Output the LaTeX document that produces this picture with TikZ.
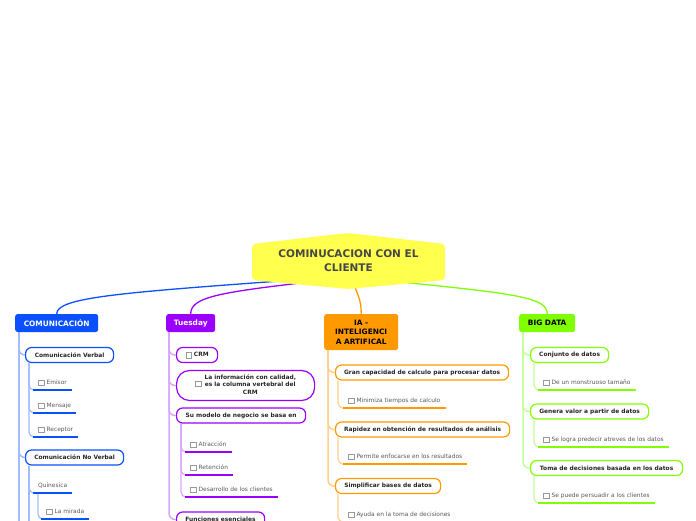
\documentclass[tikz,border=0pt]{standalone}
\usepackage{fontspec}
\setmainfont{DejaVu Sans}
\usetikzlibrary{calc,backgrounds}
\definecolor{cblue}{RGB}{10,80,255}
\definecolor{cbluel}{RGB}{160,188,255}
\definecolor{cpurp}{RGB}{153,0,255}
\definecolor{cpurpl}{RGB}{218,166,255}
\definecolor{corng}{RGB}{255,153,0}
\definecolor{corngl}{RGB}{255,208,140}
\definecolor{cgrn}{RGB}{128,255,0}
\definecolor{cgrnl}{RGB}{196,255,150}
\definecolor{cyell}{RGB}{255,255,77}
\definecolor{ctitle}{RGB}{70,70,70}
\newcommand\cbx{\raisebox{-0.7pt}{\textcolor{black!40}{\fboxsep=0pt\fboxrule=0.6pt\fbox{\rule{0pt}{5pt}\rule{5pt}{0pt}}}}\hspace{2.2pt}}
\tikzset{
 mainbox/.style={rounded corners=2.5pt, inner sep=0pt, minimum height=18pt,
   font=\bfseries\fontsize{7.4}{9.5}\selectfont, anchor=west, align=center},
 childbox/.style={draw, fill=white, line width=1.2pt, rounded corners=6pt, inner sep=0pt,
   minimum height=15pt, font=\bfseries\fontsize{5.9}{7.4}\selectfont, text=black!85,
   anchor=west, align=center},
 leaf/.style={anchor=south west, inner xsep=5pt, inner ysep=0pt, minimum height=14pt,
   font=\fontsize{5.9}{7}\selectfont, text=black!65},
 uline/.style={line width=2.6pt},
 conn/.style={line width=1.5pt, rounded corners=6pt},
 subconn/.style={line width=1.2pt, rounded corners=5pt},
 rootconn/.style={line width=1.3pt},
}
\begin{document}
\begin{tikzpicture}[x=1pt,y=-1pt]
\useasboundingbox (0,0) rectangle (696,520);
\clip (0,0) rectangle (696,520);

% central topic
\fill[cyell, rounded corners=4pt] (252,244) -- (348,233) -- (445,244) -- (445,280) -- (348,289) -- (252,280) -- cycle;
\node[font=\bfseries\fontsize{10.5}{14}\selectfont, text=ctitle, align=center] (root) at (348.5,261) {COMINUCACION CON EL\\CLIENTE};

% main topics
\node[mainbox, fill=cblue, text=white, minimum width=83pt] (com) at (15,323) {COMUNICACIÓN};
\node[mainbox, fill=cpurp, text=white, minimum width=49pt] (tue) at (166,323) {Tuesday};
\node[mainbox, fill=corng, text=black, minimum width=74pt, minimum height=36pt] (ia) at (324,332) {IA -\\INTELIGENCI\\A ARTIFICAL};
\node[mainbox, fill=cgrn, text=black, minimum width=56pt] (big) at (519,323) {BIG DATA};

% ---------- blue column
\node[childbox, draw=cblue, minimum width=88pt] (cv) at (25,355) {Comunicación Verbal};
\node[leaf] (emisor) at (33,390) {\cbx Emisor};
\node[leaf] (mensaje) at (33,413) {\cbx Mensaje};
\node[leaf] (receptor) at (33,437) {\cbx Receptor};
\node[childbox, draw=cblue, minimum width=98pt] (cnv) at (25,457.5) {Comunicación No Verbal};
\node[leaf] (quin) at (33,493) {Quinesica};
\node[leaf] (mirada) at (41,519) {\cbx La mirada};
\coordinate (bendA) at (19,530);
\coordinate (bendB) at (29,530);

% ---------- purple column
\node[childbox, draw=cpurp, minimum width=41pt] (crm) at (176,355) {\cbx CRM};
\node[childbox, draw=cpurp, minimum width=138pt, minimum height=30pt, rounded corners=13pt] (info) at (176,385.5)
  {\begin{tabular}{@{}c@{\hspace{1pt}}c@{}}\raisebox{1.5pt}{\cbx} & \begin{tabular}{@{}c@{}}La información con calidad,\\es la columna vertebral del\\CRM\end{tabular}\end{tabular}};
\node[childbox, draw=cpurp, minimum width=129pt] (modelo) at (176,415.5) {Su modelo de negocio se basa en};
\node[leaf] (atr) at (185,452) {\cbx Atracción};
\node[leaf] (ret) at (185,475) {\cbx Retención};
\node[leaf] (des) at (185,497) {\cbx Desarrollo de los clientes};
\node[childbox, draw=cpurp, minimum width=88pt] (func) at (176,519.5) {Funciones esenciales};

% ---------- orange column
\node[childbox, draw=corng, minimum width=173pt] (gran) at (335,372.5) {Gran capacidad de calculo para procesar datos};
\node[leaf] (mini) at (343,408) {\cbx Minimiza tiempos de calculo};
\node[childbox, draw=corng, minimum width=174pt] (rap) at (335,429.5) {Rapidez en obtención de resultados de análisis};
\node[leaf] (perm) at (343,464) {\cbx Permite enfocarse en los resultados};
\node[childbox, draw=corng, minimum width=105pt] (simp) at (335,486) {Simplificar bases de datos};
\node[leaf] (ayuda) at (343,522) {\cbx Ayuda en la toma de decisiones};

% ---------- green column
\node[childbox, draw=cgrn, minimum width=78pt] (conj) at (530,355) {Conjunto de datos};
\node[leaf] (mons) at (538,390) {\cbx De un monstruoso tamaño};
\node[childbox, draw=cgrn, minimum width=118pt] (gen) at (530,411.5) {Genera valor a partir de datos};
\node[leaf] (pred) at (538,447) {\cbx Se logra predecir atreves de los datos};
\node[childbox, draw=cgrn, minimum width=152pt] (toma) at (530,468) {Toma de decisiones basada en los datos};
\node[leaf] (pers) at (538,503) {\cbx Se puede persuadir a los clientes};

% underlines
\foreach \n in {emisor,mensaje,receptor,quin,mirada} \draw[uline,cblue] (\n.south west) -- (\n.south east);
\foreach \n in {atr,ret,des} \draw[uline,cpurp] (\n.south west) -- (\n.south east);
\foreach \n in {mini,perm,ayuda} \draw[uline,corng] (\n.south west) -- (\n.south east);
\foreach \n in {mons,pred,pers} \draw[uline,cgrn] (\n.south west) -- (\n.south east);

\begin{scope}[on background layer]
% root connectors
\draw[rootconn,cblue] ($(root.center)+(-68,20)$) .. controls (115,293) and (57,298) .. (com.north);
\draw[rootconn,cpurp] ($(root.center)+(-48,22)$) .. controls (215,293) and (191,298) .. (tue.north);
\draw[rootconn,corng] ($(root.center)+(6,25)$) .. controls (360,300) and (361,302) .. (ia.north);
\draw[rootconn,cgrn] ($(root.center)+(52,21)$) .. controls (520,294) and (547,298) .. (big.north);
% blue
\draw[conn,cbluel] ($(com.south west)+(4,0)$) |- (cv.west);
\draw[conn,cbluel] ($(com.south west)+(4,0)$) |- (cnv.west);
\draw[conn,cbluel] ($(com.south west)+(4,0)$) -- (bendA);
\foreach \n in {emisor,mensaje,receptor} \draw[subconn,cbluel] ($(cv.south west)+(4,0)$) |- (\n.south west);
\draw[subconn,cbluel] ($(cnv.south west)+(4,0)$) |- (quin.south west);
\draw[subconn,cbluel] ($(cnv.south west)+(4,0)$) -- (bendB);
\draw[subconn,cbluel] ($(quin.south west)+(5,0)$) |- (mirada.south west);
% purple
\foreach \n in {crm,info,modelo,func} \draw[conn,cpurpl] ($(tue.south west)+(3,0)$) |- (\n.west);
\foreach \n in {atr,ret,des} \draw[subconn,cpurpl] ($(modelo.south west)+(5,0)$) |- (\n.south west);
% orange
\foreach \n in {gran,rap,simp} \draw[conn,corngl] ($(ia.south west)+(4,0)$) |- (\n.west);
\draw[subconn,corngl] ($(gran.south west)+(3,0)$) |- (mini.south west);
\draw[subconn,corngl] ($(rap.south west)+(3,0)$) |- (perm.south west);
\draw[subconn,corngl] ($(simp.south west)+(3,0)$) |- (ayuda.south west);
% green
\foreach \n in {conj,gen,toma} \draw[conn,cgrnl] ($(big.south west)+(4,0)$) |- (\n.west);
\draw[subconn,cgrnl] ($(conj.south west)+(4,0)$) |- (mons.south west);
\draw[subconn,cgrnl] ($(gen.south west)+(4,0)$) |- (pred.south west);
\draw[subconn,cgrnl] ($(toma.south west)+(4,0)$) |- (pers.south west);
\end{scope}
\end{tikzpicture}
\end{document}
